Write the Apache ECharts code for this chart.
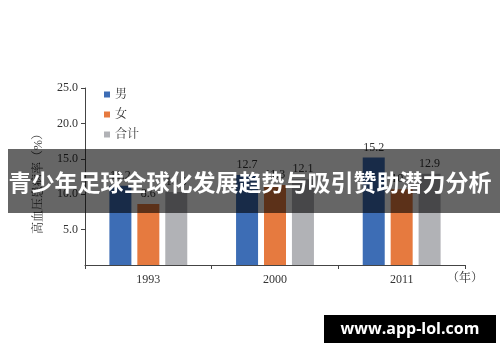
<!DOCTYPE html>
<html>
<head>
<meta charset="utf-8">
<script src="https://cdn.jsdelivr.net/npm/echarts@6/dist/echarts.min.js"></script>
<style>
html,body{margin:0;padding:0;background:#fff;}
#chart{width:500px;height:362px;}
</style>
</head>
<body>
<div id="chart"></div>
<script>
const categories = ['1993', '2000', '2011'];
const seriesNames = ['男', '女', '合计'];
const maleValues = [11.2, 12.7, 15.2];
const femaleValues = [8.6, 11.3, 10.7];
const totalValues = [10.3, 12.1, 12.9];
const yTicks = [0, 5, 10, 15, 20, 25];
const yAxisTitle = '高血压患病率（%）';
const xAxisUnit = '（年）';
const bannerText = '青少年足球全球化发展趋势与吸引赞助潜力分析';
const watermarkText = 'www.app-lol.com';

const colors = ['#3d6db5', '#e67a3f', '#b1b2b6'];
const serifFont = '"Liberation Serif", "Noto Serif CJK SC", "Noto Sans CJK SC", serif';

const chart = echarts.init(document.getElementById('chart'));
const values = [maleValues, femaleValues, totalValues];

chart.setOption({
  animation: false,
  color: colors,
  grid: { left: 85, right: 35, top: 88, bottom: 97, containLabel: false },
  legend: {
    data: seriesNames,
    orient: 'vertical',
    left: 99,
    top: 83,
    icon: 'rect',
    itemWidth: 6,
    itemHeight: 6,
    itemGap: 7,
    textStyle: { fontFamily: serifFont, fontSize: 12, color: '#333', lineHeight: 13 }
  },
  xAxis: {
    type: 'category',
    data: categories,
    axisLine: { lineStyle: { color: '#444', width: 1 } },
    axisTick: { show: true, length: 4, lineStyle: { color: '#444' } },
    axisLabel: { fontFamily: serifFont, fontSize: 12, color: '#333', margin: 9 }
  },
  yAxis: {
    type: 'value',
    min: yTicks[0],
    max: yTicks[yTicks.length - 1],
    interval: yTicks[1] - yTicks[0],
    name: yAxisTitle,
    nameLocation: 'middle',
    nameGap: 40,
    nameRotate: 90,
    nameTextStyle: { fontFamily: serifFont, fontSize: 12, color: '#333', padding: [0, 0, 0, -9] },
    axisLine: { show: true, lineStyle: { color: '#444', width: 1 } },
    axisTick: { show: true, length: 4, lineStyle: { color: '#444' } },
    splitLine: { show: false },
    axisLabel: {
      fontFamily: serifFont, fontSize: 12, color: '#333', margin: 7,
      showMinLabel: false,
      formatter: v => v.toFixed(1)
    }
  },
  series: seriesNames.map((n, i) => ({
    name: n,
    type: 'bar',
    data: values[i],
    barWidth: 22,
    barGap: '27%',
    label: {
      show: true, position: 'top', distance: 4,
      fontFamily: serifFont, fontSize: 12, color: '#333',
      formatter: p => p.value.toFixed(1)
    }
  })),
  graphic: [
    {
      type: 'text', z: 50,
      left: 447, top: 273,
      style: { text: xAxisUnit, fontFamily: serifFont, fontSize: 12, fill: '#333' }
    },
    {
      type: 'rect', z: 100,
      shape: { x: 8, y: 149, width: 492, height: 64 },
      style: { fill: 'rgba(0,0,0,0.6)' }
    },
    {
      type: 'text', z: 101,
      x: 250, y: 182,
      style: {
        text: bannerText, fill: '#fff',
        font: 'bold 23px "Noto Sans CJK SC"',
        align: 'center', verticalAlign: 'middle'
      }
    },
    {
      type: 'rect', z: 100,
      shape: { x: 324, y: 315, width: 172, height: 28 },
      style: { fill: '#000' }
    },
    {
      type: 'text', z: 101,
      x: 410, y: 329,
      style: {
        text: watermarkText, fill: '#fff',
        font: 'bold 16px "Open Sans", "Noto Sans", sans-serif',
        align: 'center', verticalAlign: 'middle'
      }
    }
  ]
});
</script>
</body>
</html>
